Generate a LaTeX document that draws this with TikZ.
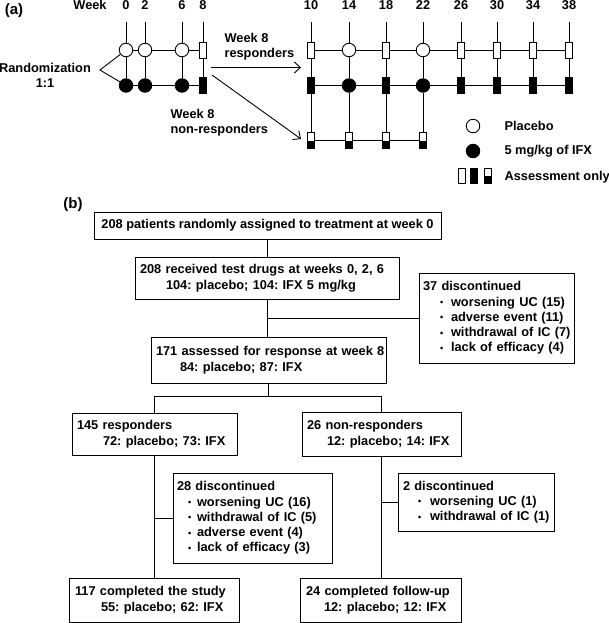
\documentclass[tikz,border=0pt]{standalone}
\usepackage{fontspec}
\setmainfont{Liberation Sans}
\usetikzlibrary{arrows.meta}
\frenchspacing
\newcommand\fsn{\bfseries\fontsize{12.8}{16}\selectfont}
\newcommand\fsl{\bfseries\fontsize{12.8}{15.3}\selectfont}
\newcommand\fsr{\bfseries\fontsize{12.8}{15}\selectfont}
\newcommand\fsh{\bfseries\fontsize{15}{18}\selectfont}
\newcommand\LL[1]{\mbox{#1}}
\newcommand\bul[3]{\mbox{\hspace*{#1pt}\makebox[#2pt][l]{\fontsize{9}{9}\selectfont\raisebox{0.5pt}{•}}#3}}
\begin{document}
\begin{tikzpicture}[x=1pt,y=-1pt,
  every node/.style={font=\fsn},
  ln/.style={line width=0.9pt},
  opc/.style={circle,draw,line width=0.9pt,fill=white,minimum size=13.5pt,inner sep=0pt},
  fic/.style={circle,draw,line width=0.9pt,fill=black,minimum size=13.5pt,inner sep=0pt},
  orc/.style={rectangle,draw,line width=0.9pt,fill=white,minimum width=7pt,minimum height=16pt,inner sep=0pt},
  frc/.style={orc,fill=black},
  hrc/.style={orc,path picture={\fill[black] (path picture bounding box.west) rectangle (path picture bounding box.south east);}},
  box/.style={draw,line width=1pt,inner ysep=0pt,align=left},
  arr/.style={ln,-{Straight Barb[length=6pt,width=11pt,line width=0.9pt]}}
]
\useasboundingbox (0,0) rectangle (609,623);
% ---------------- (a) ----------------
\node[font=\fsh] (la) at (14,11) {(a)};
\node[anchor=base] (wk) at (90,10) {Week};
\foreach \x/\n in {126/0,145/2,182/6,203/8,311/10,349/14,386/18,423/22,461/26,497/30,533/34,569/38}{
  \node[anchor=base] (w\n) at (\x,10) {\n};
  \coordinate (t\n) at (\x,22);
}
% left part
\node[opc] (p0) at (126,50) {};
\node[opc] (p2) at (145,50) {};
\node[opc] (p6) at (182,50) {};
\node[orc] (p8) at (203,50) {};
\node[fic] (d0) at (126,85.5) {};
\node[fic] (d2) at (145,85.5) {};
\node[fic] (d6) at (182,85.5) {};
\node[frc] (d8) at (203,85.5) {};
\foreach \n in {0,2,6,8}{\draw[ln] (t\n) -- (p\n) -- (d\n);}
\draw[ln] (p0) -- (p2) -- (p6) -- (p8);
\draw[ln] (d0) -- (d2) -- (d6) -- (d8);
\coordinate (rz) at (100,70);
\draw[ln] (p0) -- (rz) -- (d0);
\node[align=center,font=\fsr] (rand) at (45,75) {Randomization\\1:1};
% right part
\foreach \x/\n in {311/10,386/18,461/26,497/30,533/34,569/38}{
  \node[orc] (r\n) at (\x,50) {};
  \node[frc] (s\n) at (\x,85.5) {};
}
\node[opc] (r14) at (349,50) {};
\node[opc] (r22) at (423,50) {};
\node[fic] (s14) at (349,85.5) {};
\node[fic] (s22) at (423,85.5) {};
\foreach \x/\n in {311/10,349/14,386/18,423/22}{\node[hrc] (n\n) at (\x,140.5) {};}
\foreach \n in {10,14,18,22,26,30,34,38}{\draw[ln] (t\n) -- (r\n) -- (s\n);}
\foreach \n in {10,14,18,22}{\draw[ln] (s\n) -- (n\n);}
\draw[ln] (r10) -- (r14) -- (r18) -- (r22) -- (r26) -- (r30) -- (r34) -- (r38);
\draw[ln] (s10) -- (s14) -- (s18) -- (s22) -- (s26) -- (s30) -- (s34) -- (s38);
\draw[ln] (n10) -- (n14) -- (n18) -- (n22);
% arrows and labels
\coordinate (a1s) at (211,67.5);
\coordinate (a1e) at (301,67.5);
\coordinate (a2s) at (212,75);
\coordinate (a2e) at (301,139);
\draw[arr] (a1s) -- (a1e);
\draw[arr] (a2s) -- (a2e);
\node[anchor=west,align=left,font=\fsr] (resp) at (221,47) {Week 8\\responders};
\node[anchor=west,align=left,font=\fsr] (nresp) at (167,123) {Week 8\\non-responders};
% legend
\node[opc] (lg1) at (473,126) {};
\node[anchor=west] (lt1) at (501,126) {Placebo};
\node[fic] (lg2) at (473,151) {};
\node[anchor=west] (lt2) at (501,151) {5 mg/kg of IFX};
\node[orc,minimum height=15pt] (lg3) at (462,176) {};
\node[frc,minimum height=15pt] (lg4) at (474,176) {};
\node[hrc,minimum height=15pt] (lg5) at (487.5,176) {};
\node[anchor=west] (lt3) at (501,177) {Assessment only};
% ---------------- (b) ----------------
\node[font=\fsh] (lb) at (73,205) {(b)};
\node[box,align=center,minimum width=347pt,minimum height=27pt,inner xsep=0pt] (b1) at (267.5,225.5)
  {208 patients randomly assigned to treatment at week 0};
\node[box,minimum height=42pt,inner xsep=5pt,text width=254pt] (b2) at (267,278)
  {\LL{208 received test drugs at weeks 0, 2, 6}\\\LL{\hspace*{26pt}104: placebo; 104: IFX 5 mg/kg}};
\node[box,minimum height=46pt,inner xsep=5pt,text width=225pt] (b3) at (268.5,360)
  {\LL{171 assessed for response at week 8}\\\LL{\hspace*{24pt}84: placebo; 87: IFX}};
\node[box,font=\fsl,minimum height=90pt,inner xsep=4pt,text width=147pt] (b37) at (496.5,318)
  {\LL{37 discontinued}\\\bul{17}{11}{worsening UC (15)}\\\bul{17}{11}{adverse event (11)}\\\bul{17}{11}{withdrawal of IC (7)}\\\bul{17}{11}{lack of efficacy (4)}};
\node[box,minimum height=42pt,inner xsep=5pt,text width=155pt] (b145) at (154.5,434)
  {\LL{145 responders}\\\LL{\hspace*{26pt}72: placebo; 73: IFX}};
\node[box,minimum height=44pt,inner xsep=5pt,text width=149pt] (b26) at (381.5,434)
  {\LL{26 non-responders}\\\LL{\hspace*{20pt}12: placebo; 14: IFX}};
\node[box,font=\fsl,minimum height=90pt,inner xsep=4pt,text width=151pt] (b28) at (252.5,518)
  {\LL{28 discontinued}\\\bul{11}{9}{worsening UC (16)}\\\bul{11}{9}{withdrawal of IC (5)}\\\bul{11}{9}{adverse event (4)}\\\bul{11}{9}{lack of efficacy (3)}};
\node[box,font=\fsl,minimum height=58pt,inner xsep=5pt,text width=146pt] (b2d) at (476,502)
  {\LL{2 discontinued}\\\bul{15}{12}{worsening UC (1)}\\\bul{15}{12}{withdrawal of IC (1)}};
\node[box,minimum height=44pt,inner xsep=6pt,text width=158pt] (b117) at (154,600)
  {\LL{117 completed the study}\\\LL{\hspace*{26pt}55: placebo; 62: IFX}};
\node[box,minimum height=44pt,inner xsep=6pt,text width=149pt] (b24) at (380.5,600)
  {\LL{24 completed follow-up}\\\LL{\hspace*{18pt}12: placebo; 12: IFX}};
% connectors
\draw[ln] (b1.south) -- (b1.south |- b2.north);
\draw[ln] (b2.south) -- (b2.south |- b3.north);
\draw[ln] (b37.west) -- (b37.west -| b2.south);
\draw[ln] (b3.south) -- ++(0,13) coordinate (j2);
\draw[ln] (b145.north) |- (j2) -| (b26.north);
\draw[ln] (b145.south) -- (b145.south |- b117.north);
\draw[ln] (b28.west) -- (b28.west -| b145.south);
\draw[ln] (b26.south) -- (b26.south |- b24.north);
\draw[ln] (b2d.west) -- (b2d.west -| b26.south);
\end{tikzpicture}
\end{document}
